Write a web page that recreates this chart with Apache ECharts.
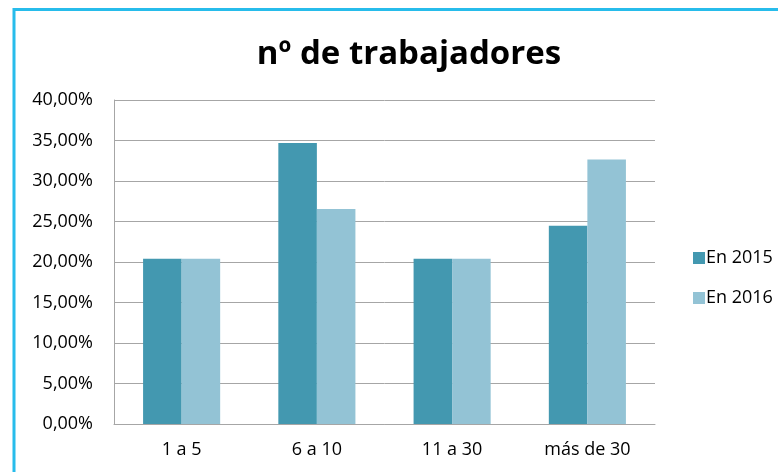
<!DOCTYPE html>
<html><head><meta charset="utf-8">
<script src="https://cdn.jsdelivr.net/npm/echarts@6/dist/echarts.min.js"></script>
<style>html,body{margin:0;padding:0;background:#fff}#c{width:778px;height:472px}</style>
</head><body><div id="c"></div>
<script>
const categories = ['1 a 5', '6 a 10', '11 a 30', 'más de 30'];
const serie2015 = [20.41, 34.69, 20.41, 24.49];
const serie2016 = [20.41, 26.53, 20.41, 32.65];
const seriesNames = ['En 2015', 'En 2016'];
const titleText = 'nº de trabajadores';

const chart = echarts.init(document.getElementById('c'), null, {renderer: 'canvas'});
const font = 'Open Sans, sans-serif';
chart.setOption({
  animation: false,
  graphic: [{
    type: 'polyline', silent: true,
    shape: {points: [[14, 472], [14, 9.5], [778, 9.5]]},
    style: {stroke: '#27BCEB', lineWidth: 3, fill: null}
  }],
  title: {
    text: titleText, left: 404, top: 33, textAlign: 'center',
    textStyle: {fontFamily: font, fontWeight: 'bold', fontSize: 33, color: '#000'}
  },
  legend: {
    orient: 'vertical', left: 688, top: 244, itemGap: 22,
    itemWidth: 12, itemHeight: 12, icon: 'rect',
    textStyle: {fontFamily: font, fontSize: 18, color: '#000', padding: [0, 0, 0, -4]},
    data: seriesNames
  },
  grid: {left: 114, top: 100, width: 541, height: 324, containLabel: false},
  xAxis: {
    type: 'category', data: categories,
    axisLine: {lineStyle: {color: '#A6A6A6', width: 1}},
    axisTick: {show: false},
    axisLabel: {fontFamily: font, fontSize: 18, color: '#000', margin: 17}
  },
  yAxis: {
    type: 'value', min: 0, max: 40, interval: 5,
    axisLine: {show: true, lineStyle: {color: '#A6A6A6', width: 1}},
    axisTick: {show: false},
    splitLine: {lineStyle: {color: '#A6A6A6', width: 1}},
    axisLabel: {
      fontFamily: font, fontSize: 18, color: '#000', margin: 21,
      formatter: v => v.toFixed(2).replace('.', ',') + '%'
    }
  },
  series: [
    {name: seriesNames[0], type: 'bar', data: serie2015, barGap: '0%', barCategoryGap: '43%',
     itemStyle: {color: '#4398B0'}},
    {name: seriesNames[1], type: 'bar', data: serie2016, barGap: '0%', barCategoryGap: '43%',
     itemStyle: {color: '#93C3D5'}}
  ]
});
</script></body></html>
